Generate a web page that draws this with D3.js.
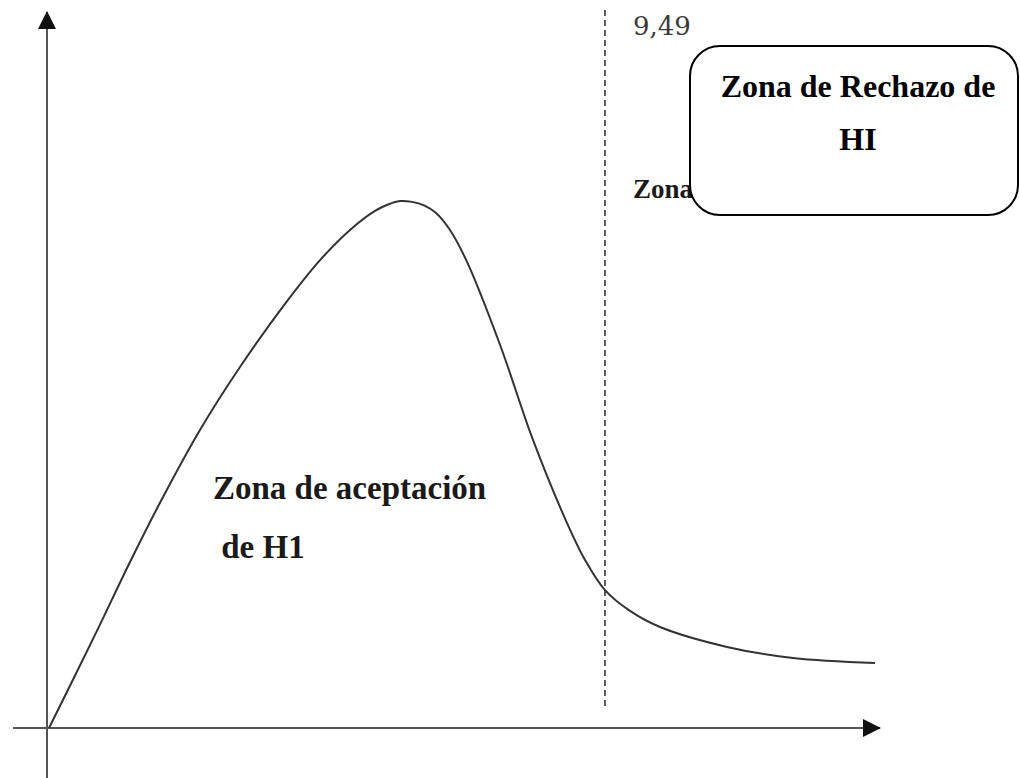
<!DOCTYPE html>
<html>
<head>
<meta charset="utf-8">
<script src="https://cdn.jsdelivr.net/npm/d3@7"></script>
<style>
  html, body { margin: 0; padding: 0; background: #fff; }
  svg { display: block; }
</style>
</head>
<body>
<svg id="chart" width="1020" height="778"></svg>
<script>
// Chi-square style density curve (statistic value, density)
const statValues = [0, 0.785, 1.383, 1.946, 2.577, 3.260, 4.079, 4.626, 5.138, 5.564, 5.786, 5.991, 6.196, 6.401, 6.606, 6.844, 7.135, 7.698, 8.261, 8.842, 9.149, 9.49, 9.917, 10.429, 11.573, 12.699, 14.099];
const density    = [0, 0.0318, 0.0567, 0.0789, 0.1018, 0.1233, 0.1462, 0.1598, 0.1701, 0.1766, 0.1788, 0.1800, 0.1797, 0.1785, 0.1759, 0.1701, 0.1592, 0.1309, 0.0984, 0.0700, 0.0574, 0.0471, 0.0400, 0.0345, 0.0277, 0.0239, 0.0222];

// Critical value and labels
const criticalValue = 9.49;
const criticalLabel = "9,49";
const acceptLines = ["Zona de aceptación", " de H1"];
const rejectLines = ["Zona de Rechazo de", "HI"];
const hiddenLabel = "Zona de rechazo";

const svg = d3.select("#chart");

const x = d3.scaleLinear().domain([0, criticalValue]).range([49, 605]);
const y = d3.scaleLinear().domain([0, 0.18]).range([728, 201]);

const axisColor = "#555";

// Arrow markers
const defs = svg.append("defs");
defs.append("marker")
  .attr("id", "arrow")
  .attr("viewBox", "0 0 18 18")
  .attr("refX", 17).attr("refY", 9)
  .attr("markerWidth", 18).attr("markerHeight", 18)
  .attr("markerUnits", "userSpaceOnUse")
  .attr("orient", "auto")
  .append("path")
  .attr("d", "M0,0 L18,9 L0,18 Z")
  .attr("fill", "#111");

// Horizontal axis
svg.append("line")
  .attr("x1", 13).attr("y1", y(0))
  .attr("x2", 880).attr("y2", y(0))
  .attr("stroke", axisColor).attr("stroke-width", 2)
  .attr("marker-end", "url(#arrow)");

// Vertical axis
svg.append("line")
  .attr("x1", 47).attr("y1", 778)
  .attr("x2", 47).attr("y2", 12)
  .attr("stroke", axisColor).attr("stroke-width", 2)
  .attr("marker-end", "url(#arrow)");

// Critical value line
svg.append("line")
  .attr("x1", x(criticalValue)).attr("y1", 10)
  .attr("x2", x(criticalValue)).attr("y2", 707)
  .attr("stroke", "#333").attr("stroke-width", 1.6)
  .attr("stroke-dasharray", "6,4");

// Density curve
const pts = statValues.map((v, i) => [v, density[i]]);
svg.append("path")
  .datum(pts)
  .attr("fill", "none")
  .attr("stroke", "#333")
  .attr("stroke-width", 2)
  .attr("d", d3.line().x(d => x(d[0])).y(d => y(d[1])).curve(d3.curveCatmullRom.alpha(0.5)));

// Critical value label
svg.append("text")
  .attr("x", 633).attr("y", 35)
  .attr("font-family", "DejaVu Serif")
  .attr("font-size", 26)
  .attr("fill", "#3a3a3a")
  .text(criticalLabel);

// Rejection label partially covered by the callout
svg.append("text")
  .attr("x", 633).attr("y", 198)
  .attr("font-family", "Liberation Serif, serif")
  .attr("font-weight", "bold")
  .attr("font-size", 27)
  .attr("fill", "#1a1a1a")
  .text(hiddenLabel);

// Callout box
svg.append("rect")
  .attr("x", 690).attr("y", 46)
  .attr("width", 328).attr("height", 169)
  .attr("rx", 30).attr("ry", 30)
  .attr("fill", "#fff")
  .attr("stroke", "#000").attr("stroke-width", 2);

svg.selectAll("text.reject")
  .data(rejectLines)
  .join("text")
  .attr("class", "reject")
  .attr("x", 858)
  .attr("y", (d, i) => 97 + i * 53)
  .attr("text-anchor", "middle")
  .attr("font-family", "Liberation Serif, serif")
  .attr("font-weight", "bold")
  .attr("font-size", 32)
  .attr("fill", "#000")
  .text(d => d);

// Acceptance label
svg.selectAll("text.accept")
  .data(acceptLines)
  .join("text")
  .attr("class", "accept")
  .attr("x", 213)
  .attr("y", (d, i) => 499 + i * 59)
  .style("white-space", "pre")
  .attr("font-family", "Liberation Serif, serif")
  .attr("font-weight", "bold")
  .attr("font-size", 33)
  .attr("fill", "#1a1a1a")
  .text(d => d);
</script>
</body>
</html>
